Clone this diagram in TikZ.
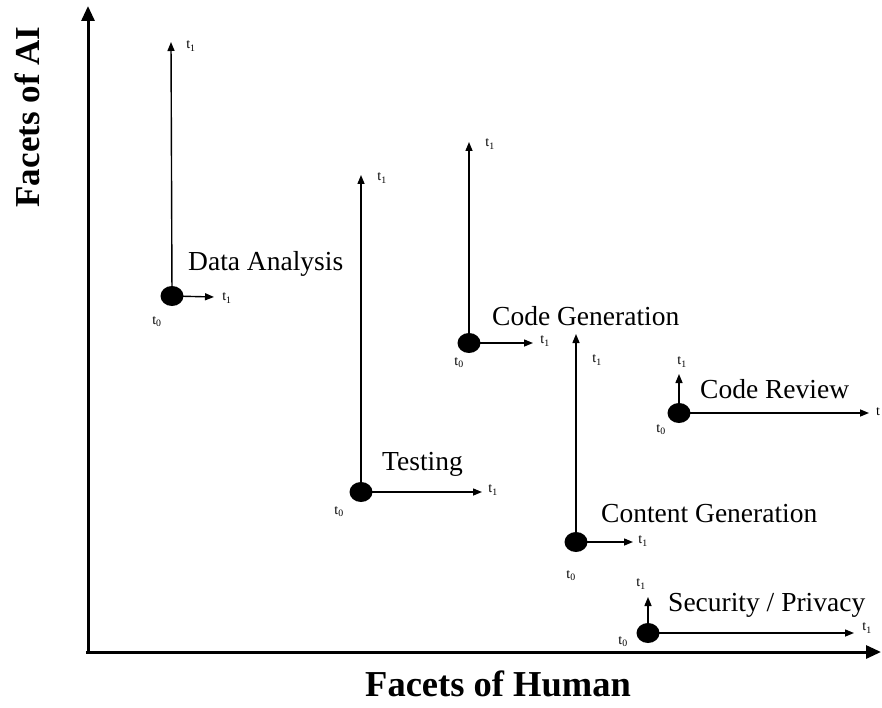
\documentclass[tikz,border=0pt]{standalone}
\usepackage{fontspec}
\setmainfont{Liberation Serif}
\usetikzlibrary{arrows.meta,shapes.geometric}
\begin{document}
\begin{tikzpicture}[x=1pt,y=-1pt,
  dotnode/.style={ellipse,fill=black,draw=none,minimum width=23pt,minimum height=20pt,inner sep=0pt},
  flow/.style={-{Triangle[length=9pt,width=7pt]},line width=1.4pt},
  axisline/.style={-{Triangle[length=15pt,width=13pt]},line width=3pt},
  lbl/.style={anchor=west,inner sep=0pt,font=\fontsize{27.5}{30}\selectfont},
  tl/.style={inner sep=0pt,font=\fontsize{14}{16}\selectfont},
  axtitle/.style={inner sep=0pt,font=\fontsize{36.5}{40}\selectfont\bfseries}
]
\useasboundingbox (0,0) rectangle (882,708);
% axes
\coordinate (origin) at (88,652);
\coordinate (ytop) at (88,6);
\coordinate (xend) at (881,652);
\draw[axisline] ([yshift=-2pt]origin) -- (ytop);
\draw[axisline] ([xshift=-2pt]origin) -- (xend);
\node[axtitle,rotate=90,font=\fontsize{35}{40}\selectfont\bfseries] (ylab) at (27,117) {Facets of AI};
\node[axtitle] (xlab) at (498,684) {Facets of Human};

% Data Analysis
\node[dotnode] (da) at (172,296) {};
\coordinate (daV) at (171,42);
\coordinate (daH) at (214,297);
\draw[flow] (da.center) -- (daV);
\draw[flow] (da.center) -- (daH);
\node[tl] (daV1) at (191,46) {t\textsubscript{1}};
\node[tl] (daH1) at (227,298) {t\textsubscript{1}};
\node[tl] (da0) at (157,322) {t\textsubscript{0}};
\node[lbl] (daL) at (188,264) {Data Analysis};

% Testing
\node[dotnode] (te) at (361,492) {};
\coordinate (teV) at (361,175);
\coordinate (teH) at (482,492);
\draw[flow] (te.center) -- (teV);
\draw[flow] (te.center) -- (teH);
\node[tl] (teV1) at (382,178) {t\textsubscript{1}};
\node[tl] (teH1) at (493,490) {t\textsubscript{1}};
\node[tl] (te0) at (339,512) {t\textsubscript{0}};
\node[lbl] (teL) at (382,464) {Testing};

% Code Generation
\node[dotnode] (cg) at (469,343) {};
\coordinate (cgV) at (469,142);
\coordinate (cgH) at (533,343);
\draw[flow] (cg.center) -- (cgV);
\draw[flow] (cg.center) -- (cgH);
\node[tl] (cgV1) at (490,144) {t\textsubscript{1}};
\node[tl] (cgH1) at (545,341) {t\textsubscript{1}};
\node[tl] (cg0) at (459,363) {t\textsubscript{0}};
\node[lbl] (cgL) at (492,316) {Code Generation};

% Content Generation
\node[dotnode] (co) at (576,542) {};
\coordinate (coV) at (576,334);
\coordinate (coH) at (633,542);
\draw[flow] (co.center) -- (coV);
\draw[flow] (co.center) -- (coH);
\node[tl] (coV1) at (597,360) {t\textsubscript{1}};
\node[tl] (coH1) at (643,541) {t\textsubscript{1}};
\node[tl] (co0) at (571,576) {t\textsubscript{0}};
\node[lbl] (coL) at (601,514) {Content Generation};

% Code Review
\node[dotnode] (cr) at (679,413) {};
\coordinate (crV) at (679,374);
\coordinate (crH) at (869,413);
\draw[flow] (cr.center) -- (crV);
\draw[flow] (cr.center) -- (crH);
\node[tl] (crV1) at (682,362) {t\textsubscript{1}};
\node[tl,anchor=west] (crH1) at (876,412) {t};
\node[tl] (cr0) at (661,430) {t\textsubscript{0}};
\node[lbl] (crL) at (700,389) {Code Review};

% Security / Privacy
\node[dotnode] (sp) at (648,633) {};
\coordinate (spV) at (648,597);
\coordinate (spH) at (854,633);
\draw[flow] (sp.center) -- (spV);
\draw[flow] (sp.center) -- (spH);
\node[tl] (spV1) at (641,584) {t\textsubscript{1}};
\node[tl] (spH1) at (867,628) {t\textsubscript{1}};
\node[tl] (sp0) at (623,642) {t\textsubscript{0}};
\node[lbl] (spL) at (668,605) {Security / Privacy};
\end{tikzpicture}
\end{document}
